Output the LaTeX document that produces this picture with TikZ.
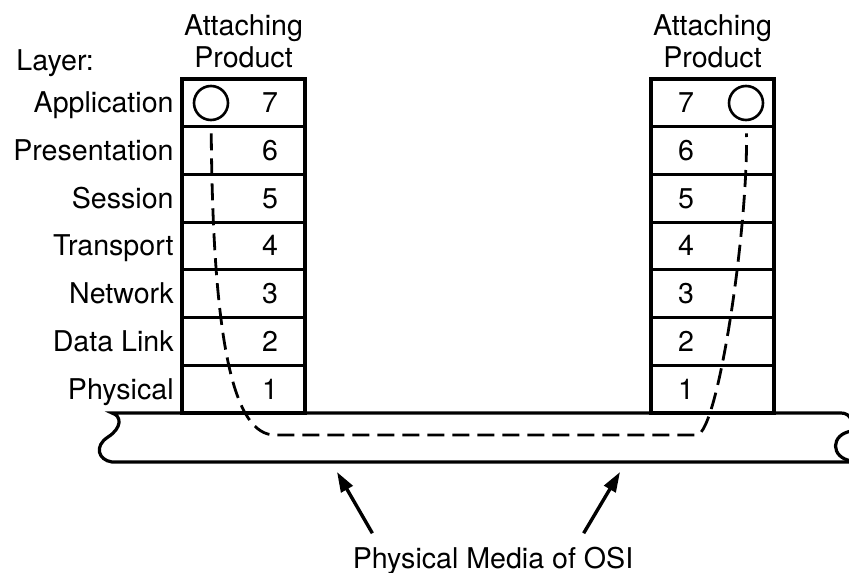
\documentclass[tikz,border=0pt]{standalone}
\usepackage{fontspec}
\setmainfont{TeX Gyre Heros}
\usetikzlibrary{positioning,arrows.meta}
\begin{document}
\begin{tikzpicture}[x=0.5pt,y=-0.5pt]
            \tikzstyle{cell}=[rectangle,draw,line width=1.6pt,minimum width=61.5pt,minimum height=23.85pt,inner sep=0pt]
            \tikzstyle{lbl}=[font=\fontsize{14.3}{16}\selectfont,inner sep=0pt]
            \tikzstyle{tube}=[line width=1.6pt]
            \tikzstyle{endp}=[circle,draw,line width=1.3pt,minimum size=17pt,inner sep=0pt]
            \tikzstyle{msg}=[line width=1.4pt,dash pattern=on 8.5pt off 4pt,shorten <=6pt,shorten >=6pt]
            \tikzstyle{pointer}=[line width=1.7pt,-{Triangle[length=10pt,width=6.5pt]}]

            \useasboundingbox (0,0) rectangle (849,572);

            %medium
            \draw[tube] (852,421) .. controls (849,415) and (846,413) .. (841,413) -- (112,413)
                .. controls (122,416) and (122,428) .. (108,437)
                .. controls (94,446) and (98,460) .. (112,462) -- (852,462);
            \draw[tube] (852,431) .. controls (830,434) and (830,458) .. (852,461);

            %stacks
            \foreach \n/\name in {7/Application,6/Presentation,5/Session,4/Transport,3/Network,2/Data Link,1/Physical}
            {
                \pgfmathsetmacro{\yc}{102.85+47.7*(7-\n)}
                \node[cell] (L\n) at (243.5,\yc) {};
                \node[cell] (R\n) at (712.5,\yc) {};
                \node[lbl,anchor=base] (numL\n) at (270,\yc+10) {\n};
                \node[lbl,anchor=base] (numR\n) at (686,\yc+10) {\n};
                \node[lbl,anchor=base east] (lay\n) at (174,\yc+10) {\name};
            }

            \node[lbl,anchor=base west] (layer) at (16,71) {Layer:};
            \node[lbl,align=center,above=4.5pt of L7] (prodL) {Attaching\\Product};
            \node[lbl,align=center,above=4.5pt of R7] (prodR) {Attaching\\Product};

            %end_points
            \node[endp] (cL) at (211,103) {};
            \node[endp] (cR) at (746,103) {};
            \draw[msg] (cL) .. controls (213,350) and (235,435) .. (275,435) -- (697,435)
                .. controls (718,432) and (748,230) .. (cR);

            %caption
            \node[lbl,anchor=base] (media) at (493,568) {Physical Media of OSI};
            \coordinate (tipL) at (337,472);
            \coordinate (tipR) at (620,472);
            \draw[pointer] ([xshift=10pt,yshift=6.5pt]media.north west) -- (tipL);
            \draw[pointer] ([xshift=-25pt,yshift=6.5pt]media.north east) -- (tipR);

\end{tikzpicture}
\end{document}
